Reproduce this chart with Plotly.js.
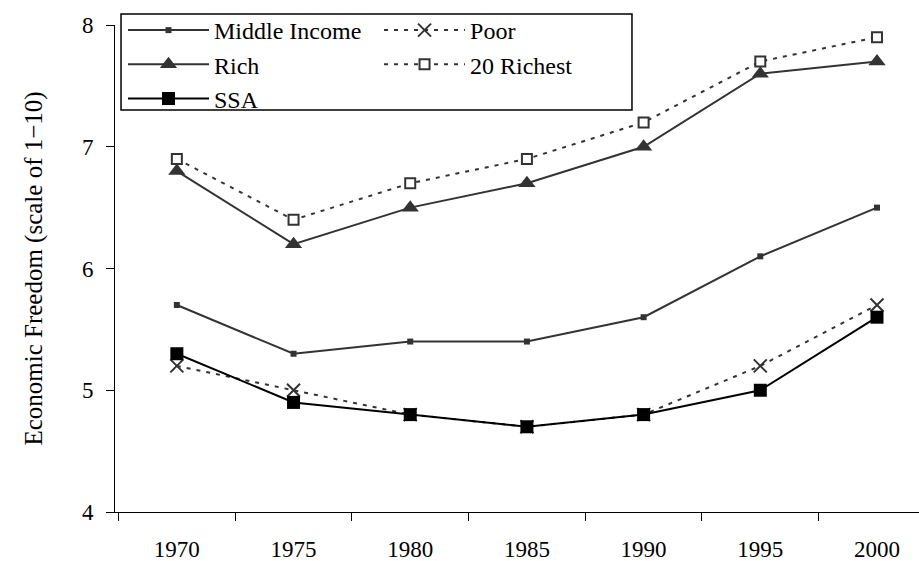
<!DOCTYPE html>
<html>
<head>
<meta charset="utf-8">
<script src="https://cdn.plot.ly/plotly-3.0.1.min.js"></script>
<style>html,body{margin:0;padding:0;background:#fff;}#chart{width:919px;height:561px;}</style>
</head>
<body>
<div id="chart"></div>
<script>
const years = ['1970', '1975', '1980', '1985', '1990', '1995', '2000'];
const middleIncome = [5.7, 5.3, 5.4, 5.4, 5.6, 6.1, 6.5];
const poor = [5.2, 5.0, 4.8, 4.7, 4.8, 5.2, 5.7];
const rich = [6.8, 6.2, 6.5, 6.7, 7.0, 7.6, 7.7];
const richest20 = [6.9, 6.4, 6.7, 6.9, 7.2, 7.7, 7.9];
const ssa = [5.3, 4.9, 4.8, 4.7, 4.8, 5.0, 5.6];
const yTicks = [4, 5, 6, 7, 8];

const FONT = 'Liberation Serif';
const GRAY = '#333333';

const traces = [
  {name: 'Middle Income', x: years, y: middleIncome, type: 'scatter', mode: 'lines+markers',
   line: {color: GRAY, width: 2}, marker: {symbol: 'square', size: 6, color: GRAY}, legend: 'legend'},
  {name: 'Rich', x: years, y: rich, type: 'scatter', mode: 'lines+markers',
   line: {color: GRAY, width: 2}, marker: {symbol: 'triangle-up', size: 15, color: GRAY}, legend: 'legend'},
  {name: 'Poor', x: years, y: poor, type: 'scatter', mode: 'lines+markers',
   line: {color: GRAY, width: 2, dash: '4px,6px'}, marker: {symbol: 'x-thin', size: 13, color: GRAY, line: {color: GRAY, width: 2}}, legend: 'legend2'},
  {name: '20 Richest', x: years, y: richest20, type: 'scatter', mode: 'lines+markers',
   line: {color: GRAY, width: 2, dash: '4px,6px'}, marker: {symbol: 'square', size: 10, color: '#ffffff', line: {color: GRAY, width: 2}}, legend: 'legend2'},
  {name: 'SSA', x: years, y: ssa, type: 'scatter', mode: 'lines+markers',
   line: {color: '#000000', width: 2}, marker: {symbol: 'square', size: 13, color: '#000000'}, legend: 'legend'}
];

const legendCommon = {
  orientation: 'v', yanchor: 'top', xanchor: 'left', bgcolor: 'rgba(0,0,0,0)', borderwidth: 0,
  font: {family: FONT, size: 24, color: '#000'}, itemwidth: 81, traceorder: 'normal'
};

const layout = {
  width: 919, height: 561,
  margin: {l: 115, r: 0, t: 25, b: 49},
  paper_bgcolor: '#ffffff', plot_bgcolor: '#ffffff',
  font: {family: FONT, color: '#000'},
  showlegend: true,
  legend: Object.assign({}, legendCommon, {x: 0.00995, y: 1.0349}),
  legend2: Object.assign({}, legendCommon, {x: 0.3284, y: 1.0349}),
  xaxis: {
    type: 'category', range: [-0.53, 6.36], tickson: 'boundaries',
    ticks: 'outside', ticklen: 8, tickwidth: 1, tickcolor: '#000',
    showline: true, linecolor: '#000', linewidth: 1, showgrid: false, zeroline: false,
    tickfont: {family: FONT, size: 23, color: '#000'}, ticklabelstandoff: 16
  },
  yaxis: {
    range: [4, 8], tickmode: 'array', tickvals: yTicks, ticktext: yTicks.map(String),
    ticks: 'outside', ticklen: 8, tickwidth: 1, tickcolor: '#000',
    showline: true, linecolor: '#000', linewidth: 1, showgrid: false, zeroline: false,
    tickfont: {family: FONT, size: 23, color: '#000'}, ticklabelstandoff: 8,
    title: {text: 'Economic Freedom (scale of 1\u221210)', font: {family: FONT, size: 25, color: '#000'}, standoff: 32}
  },
  shapes: [{
    type: 'rect', xref: 'paper', yref: 'paper', layer: 'below',
    x0: 0.0075, x1: 0.643, y0: 0.8255, y1: 1.0226,
    line: {color: '#000', width: 1.5}, fillcolor: '#ffffff'
  }]
};

Plotly.newPlot('chart', traces, layout, {displayModeBar: false, staticPlot: true});
</script>
</body>
</html>
